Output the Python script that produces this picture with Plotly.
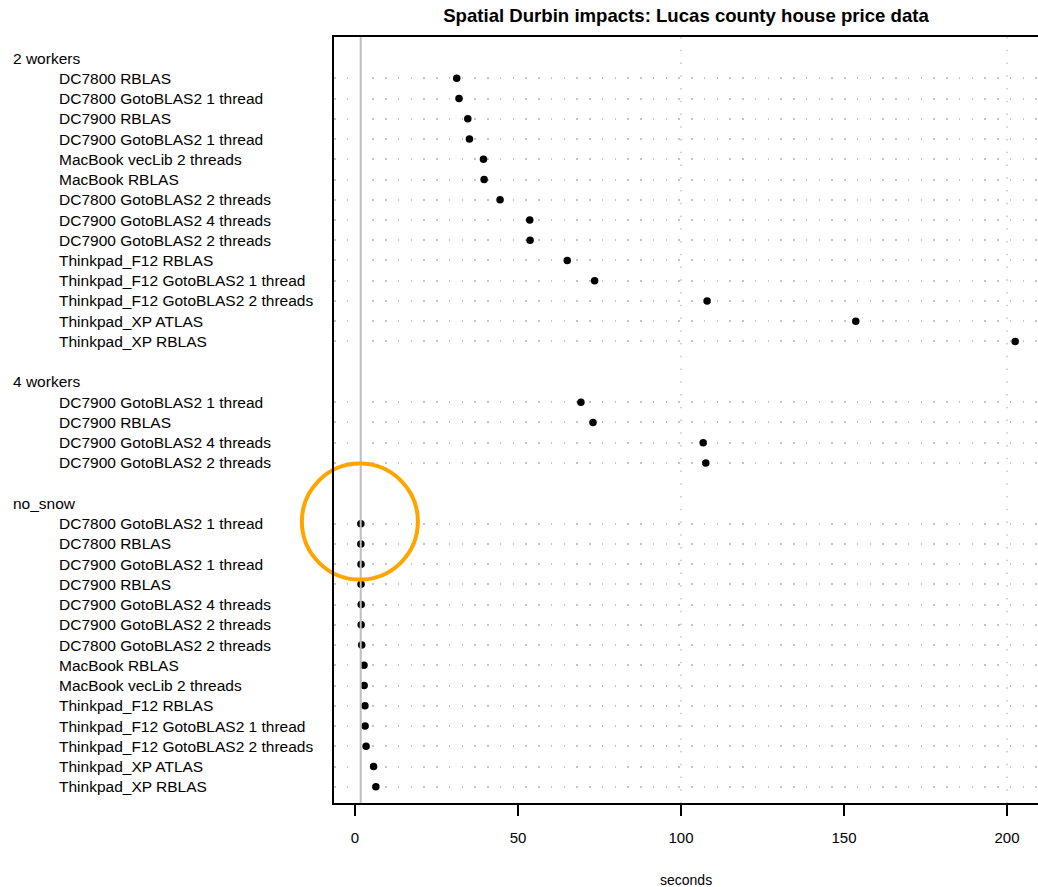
import plotly.graph_objects as go

# ---------------- data ----------------
group_names = ["2 workers", "4 workers", "no_snow"]

labels_2w = [
    "DC7800 RBLAS", "DC7800 GotoBLAS2 1 thread", "DC7900 RBLAS",
    "DC7900 GotoBLAS2 1 thread", "MacBook vecLib 2 threads", "MacBook RBLAS",
    "DC7800 GotoBLAS2 2 threads", "DC7900 GotoBLAS2 4 threads",
    "DC7900 GotoBLAS2 2 threads", "Thinkpad_F12 RBLAS",
    "Thinkpad_F12 GotoBLAS2 1 thread", "Thinkpad_F12 GotoBLAS2 2 threads",
    "Thinkpad_XP ATLAS", "Thinkpad_XP RBLAS",
]
values_2w = [31.2, 31.9, 34.6, 35.1, 39.4, 39.6, 44.5, 53.6, 53.7, 65.1, 73.5, 108.0, 153.6, 202.5]

labels_4w = [
    "DC7900 GotoBLAS2 1 thread", "DC7900 RBLAS",
    "DC7900 GotoBLAS2 4 threads", "DC7900 GotoBLAS2 2 threads",
]
values_4w = [69.3, 73.0, 106.8, 107.6]

labels_ns = [
    "DC7800 GotoBLAS2 1 thread", "DC7800 RBLAS", "DC7900 GotoBLAS2 1 thread",
    "DC7900 RBLAS", "DC7900 GotoBLAS2 4 threads", "DC7900 GotoBLAS2 2 threads",
    "DC7800 GotoBLAS2 2 threads", "MacBook RBLAS", "MacBook vecLib 2 threads",
    "Thinkpad_F12 RBLAS", "Thinkpad_F12 GotoBLAS2 1 thread",
    "Thinkpad_F12 GotoBLAS2 2 threads", "Thinkpad_XP ATLAS", "Thinkpad_XP RBLAS",
]
values_ns = [1.8, 1.8, 1.85, 1.85, 1.9, 1.9, 2.05, 2.75, 2.8, 3.05, 3.1, 3.4, 5.7, 6.4]

x_ticks = [0, 50, 100, 150, 200]
x_guides = [100, 200]
ref_line = 1.75
highlight_x = 1.5
highlight_y = 22.9

title_text = "Spatial Durbin impacts: Lucas county house price data"
x_title = "seconds"

# ---------------- layout of rows ----------------
groups = [(group_names[0], labels_2w, values_2w),
          (group_names[1], labels_4w, values_4w),
          (group_names[2], labels_ns, values_ns)]

FONT = "Liberation Sans, Arial, Helvetica, sans-serif"
GRID = "#c4c4c4"

header_pos, item_pos, item_labels, item_vals = [], [], [], []
pos = 0
for gi, (gname, labs, vals) in enumerate(groups):
    header_pos.append((pos, gname))
    pos += 1
    for lab, v in zip(labs, vals):
        item_pos.append(pos)
        item_labels.append(lab)
        item_vals.append(v)
        pos += 1
    if gi < len(groups) - 1:
        pos += 1

fig = go.Figure()

# vertical dotted guides drawn as traces (between grid and points)
for xv in x_guides:
    fig.add_trace(go.Scatter(
        x=[xv, xv], y=[-1.04, 36.8], mode="lines",
        line=dict(color=GRID, width=1.5, dash="1.5px,11.25px"),
        hoverinfo="skip", showlegend=False,
    ))

fig.add_trace(go.Scatter(
    x=item_vals, y=item_pos, mode="markers",
    marker=dict(color="black", size=7.5),
    hovertext=item_labels, showlegend=False,
))

# grey reference line over the points
fig.add_trace(go.Scatter(
    x=[ref_line, ref_line], y=[-1.04, 36.8], mode="lines",
    line=dict(color="#bebebe", width=2),
    hoverinfo="skip", showlegend=False,
))

# orange highlight circle
fig.add_trace(go.Scatter(
    x=[highlight_x], y=[highlight_y], mode="markers",
    marker=dict(symbol="circle-open", size=116, color="#FFA500",
                line=dict(width=4, color="#FFA500")),
    cliponaxis=False, hoverinfo="skip", showlegend=False,
))

annotations = []
for p, g in header_pos:
    annotations.append(dict(text=g, xref="paper", yref="y", x=0, y=p, xanchor="left",
                            yanchor="middle", xshift=-323, showarrow=False,
                            font=dict(family=FONT, size=15.5, color="black")))
for p, lab in zip(item_pos, item_labels):
    annotations.append(dict(text=lab, xref="paper", yref="y", x=0, y=p, xanchor="left",
                            yanchor="middle", xshift=-277, showarrow=False,
                            font=dict(family=FONT, size=15.5, color="black")))
annotations.append(dict(text=x_title, xref="paper", yref="paper", x=0.5, y=0, yshift=-77,
                        xanchor="center", yanchor="middle", showarrow=False,
                        font=dict(family=FONT, size=14, color="black")))

fig.update_layout(
    width=1038, height=887,
    margin=dict(l=334, r=0, t=37, b=84),
    paper_bgcolor="white", plot_bgcolor="white",
    font=dict(family=FONT, size=15, color="black"),
    title=dict(text="<b>" + title_text + "</b>", x=0.5, xref="paper", xanchor="center",
               y=1 - 15 / 887, yanchor="middle",
               font=dict(family=FONT, size=18.6, color="black")),
    annotations=annotations,
    xaxis=dict(range=[-6.44, 209.5], tickvals=x_ticks, ticks="outside", ticklen=11,
               tickwidth=2, tickcolor="black", showline=True, linewidth=2,
               linecolor="black", mirror=True, showgrid=False, zeroline=False,
               ticklabelstandoff=9, tickfont=dict(size=15)),
    yaxis=dict(range=[36.8, -1.04], tickvals=item_pos, showticklabels=False, ticks="",
               showline=True, linewidth=2, linecolor="black", mirror=False,
               showgrid=True, gridcolor=GRID, gridwidth=1.5, griddash="1.5px,11.25px",
               zeroline=False),
)

fig.write_html("out.html")
